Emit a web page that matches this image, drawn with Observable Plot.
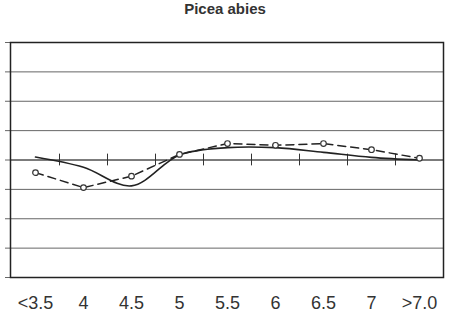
<!DOCTYPE html>
<html>
<head>
<meta charset="utf-8">
<script src="https://cdn.jsdelivr.net/npm/d3@7"></script>
<script src="https://cdn.jsdelivr.net/npm/@observablehq/plot@0.6"></script>
<style>
  body { margin: 0; background: #fff; }
  #title { height: 28px; line-height: 27px; text-align: center; font: bold 15px "Liberation Sans", Arial, sans-serif; color: #333; }
  #chart svg { display: block; }
</style>
</head>
<body>
<div id="title">Picea abies</div>
<div id="chart"></div>
<script>
const categories = ["<3.5", "4", "4.5", "5", "5.5", "6", "6.5", "7", ">7.0"];
const dashedValues = [-0.43, -0.94, -0.55, 0.19, 0.56, 0.50, 0.56, 0.35, 0.06];
const solidValues = [0.1, -0.25, -0.88, 0.17, 0.42, 0.42, 0.26, 0.09, 0.0];
const gridTicks = [-4, -3, -2, -1, 0, 1, 2, 3, 4];

const dashed = categories.map((c, i) => ({cat: c, v: dashedValues[i]}));
const solid = categories.map((c, i) => ({cat: c, v: solidValues[i]}));
const boundaries = categories.slice(1);

const ink = "#222";
const chart = Plot.plot({
  width: 450,
  height: 289,
  marginTop: 14,
  marginBottom: 40,
  marginLeft: 10,
  marginRight: 7,
  style: {fontFamily: "'Liberation Sans', Arial, sans-serif", color: "#333", background: "#fff"},
  x: {type: "band", domain: categories, padding: 0, axis: null},
  y: {domain: [-4, 4], axis: null, label: null},
  marks: [
    Plot.gridY(gridTicks, {stroke: "#666", strokeOpacity: 1, strokeWidth: 1}),
    Plot.axisY({ticks: gridTicks, tickSize: 5, tickFormat: () => "", label: null, stroke: "#666", strokeOpacity: 1}),
    Plot.ruleY([0], {stroke: "#444", strokeWidth: 1}),
    Plot.ruleX(boundaries, {x: d => d, y1: -0.2, y2: 0.2, dx: -24, stroke: "#333", strokeWidth: 1}),
    Plot.frame({stroke: ink, strokeWidth: 1.5}),
    Plot.line(solid, {x: "cat", y: "v", curve: "catmull-rom", stroke: ink, strokeWidth: 1.6}),
    Plot.line(dashed, {x: "cat", y: "v", stroke: ink, strokeWidth: 1.5, strokeDasharray: "8,5"}),
    Plot.dot(dashed, {x: "cat", y: "v", r: 2.8, fill: "white", stroke: "#333", strokeWidth: 1.2}),
    Plot.text(categories, {x: d => d, frameAnchor: "bottom", dy: 26, fontSize: 18, fill: "#333", lineAnchor: "middle"})
  ]
});
document.getElementById("chart").appendChild(chart);
</script>
</body>
</html>
